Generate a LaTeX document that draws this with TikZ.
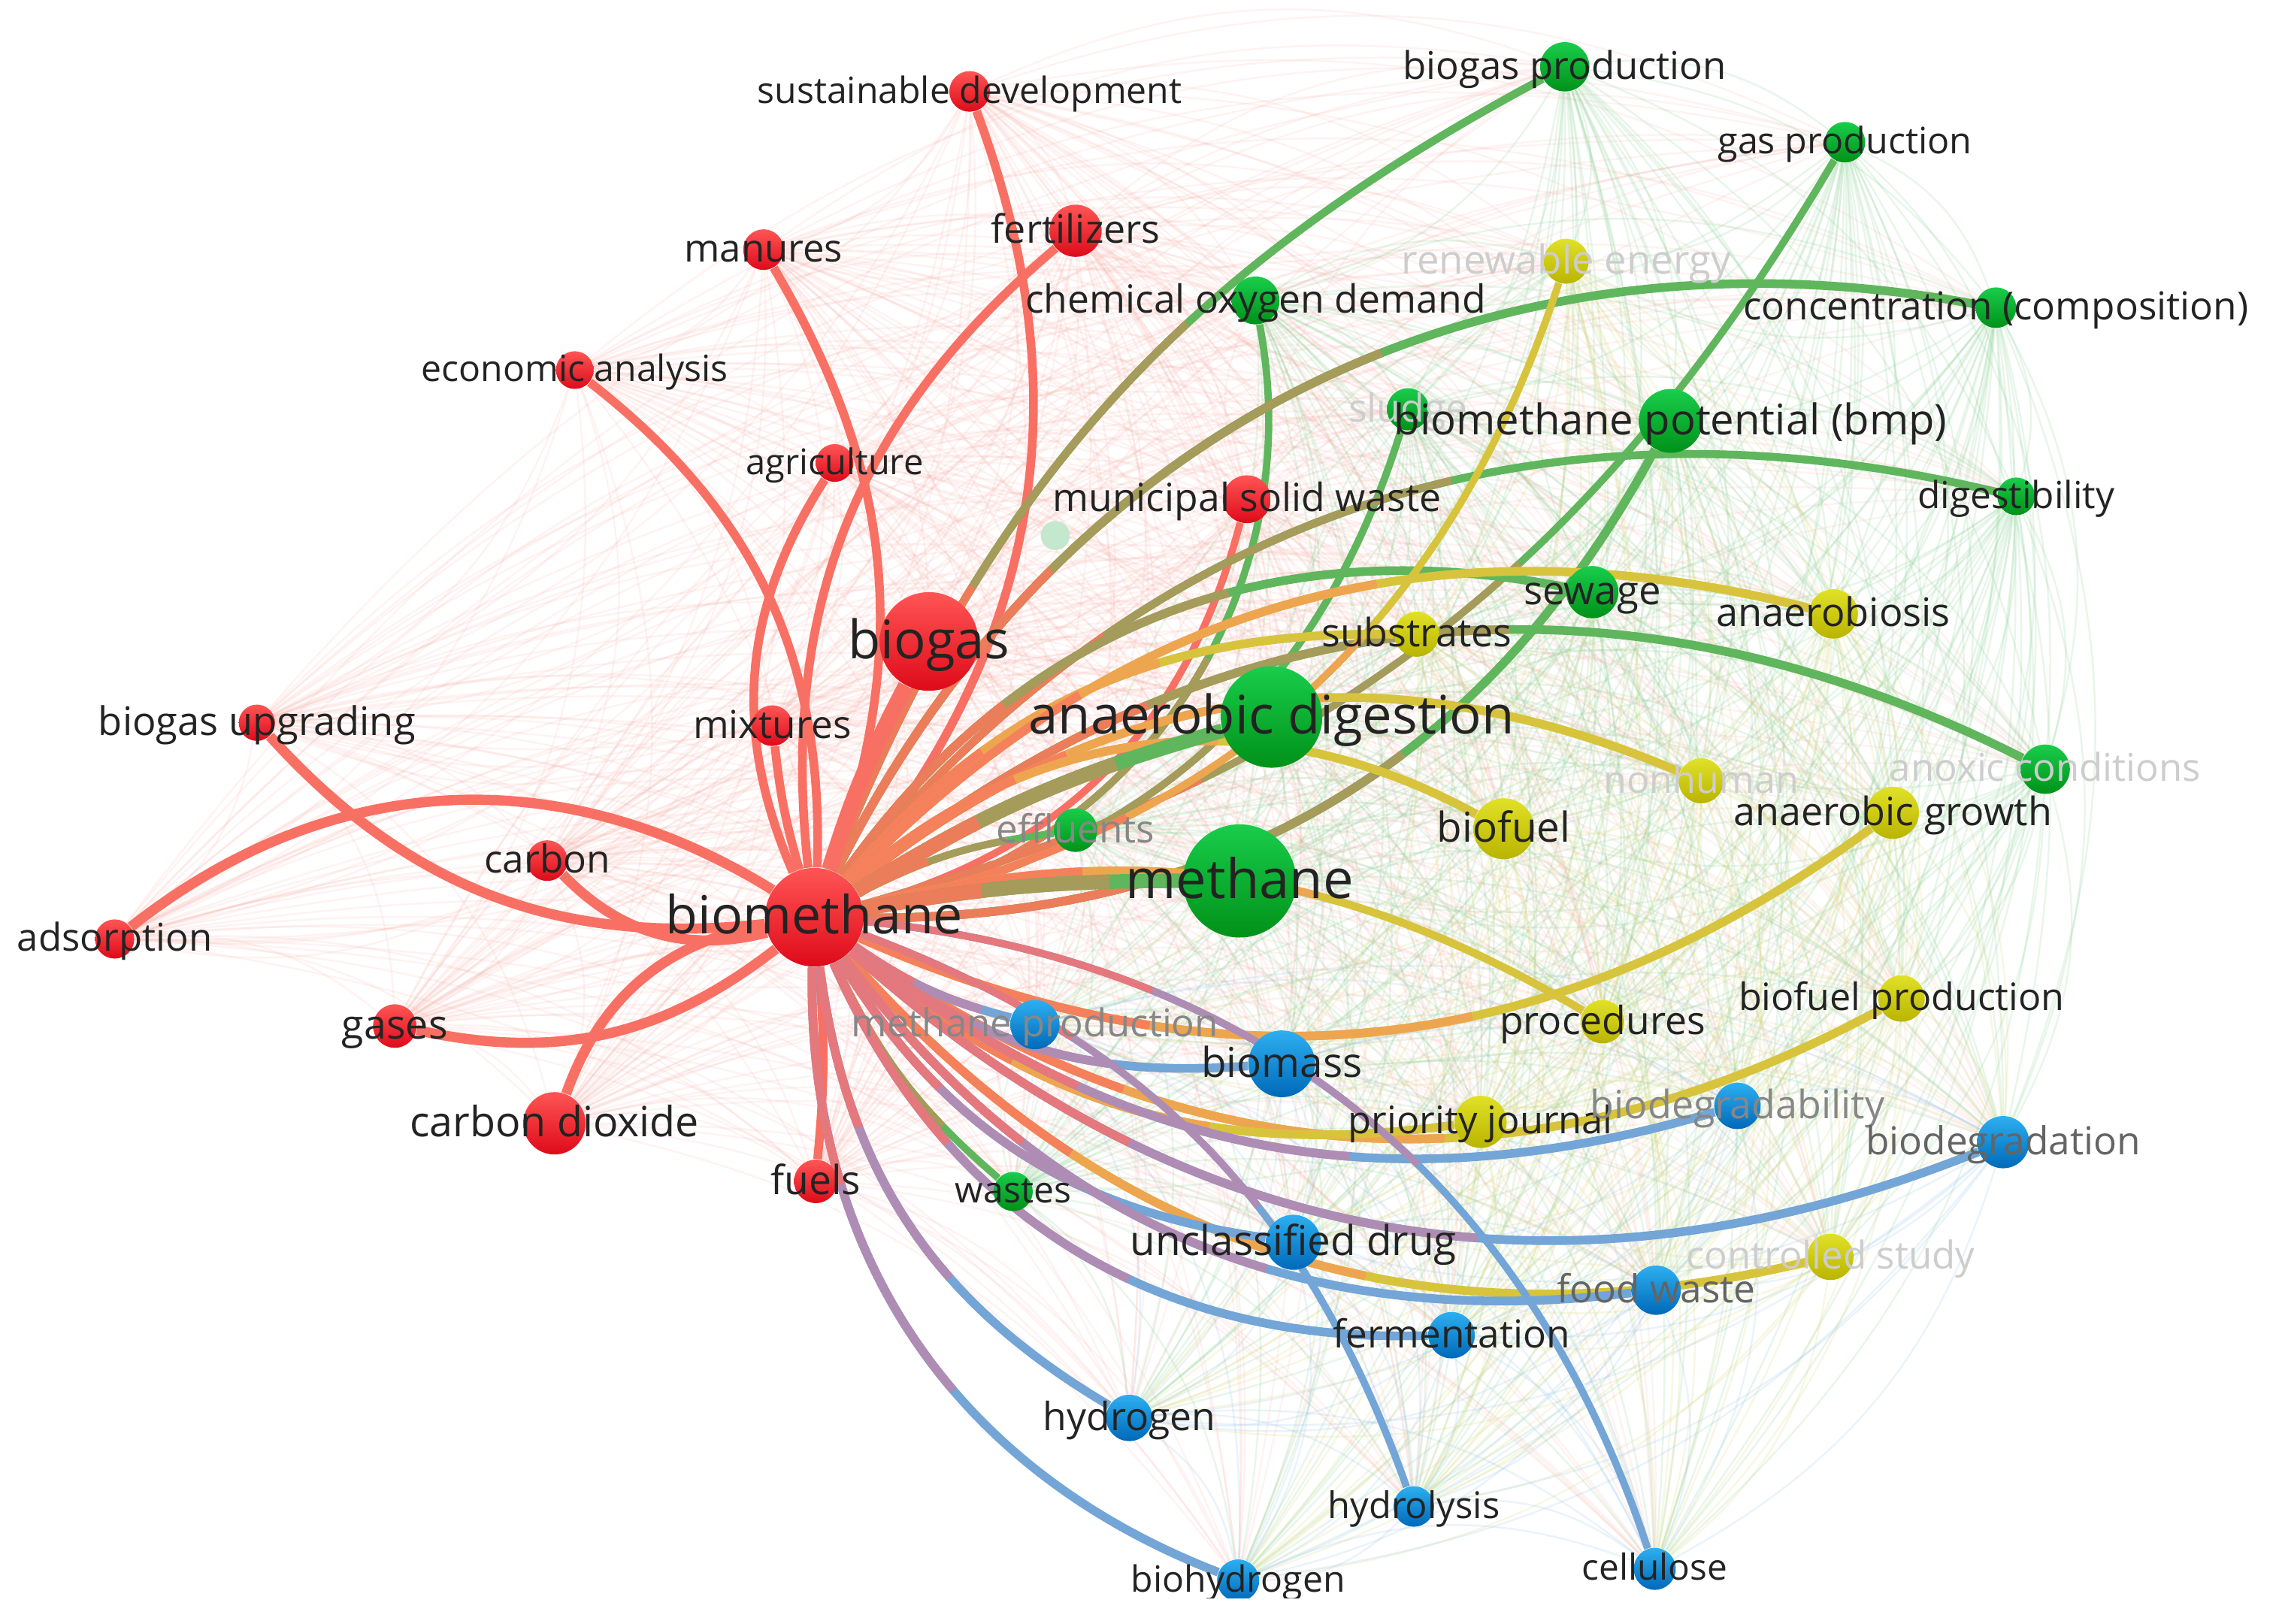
\documentclass[tikz,border=0pt]{standalone}
\usepackage{fontspec}
\setmainfont{Open Sans}
\pgfdeclarelayer{web}
\pgfdeclarelayer{edges}
\pgfsetlayers{web,edges,main}
% node colours (top / bottom of shading)
\definecolor{nR1}{RGB}{255,85,85}\definecolor{nR2}{RGB}{222,10,25}
\definecolor{nG1}{RGB}{25,205,75}\definecolor{nG2}{RGB}{0,145,25}
\definecolor{nY1}{RGB}{225,225,40}\definecolor{nY2}{RGB}{185,180,0}
\definecolor{nB1}{RGB}{45,175,240}\definecolor{nB2}{RGB}{0,105,185}
% strong edge colours (near biomethane -> far end)
\definecolor{eR}{RGB}{248,112,100}
\definecolor{eG1}{RGB}{235,125,90}\definecolor{eG2}{RGB}{165,155,90}\definecolor{eG3}{RGB}{95,182,92}
\definecolor{eY1}{RGB}{245,128,92}\definecolor{eY2}{RGB}{238,165,80}\definecolor{eY3}{RGB}{215,196,60}
\definecolor{eB1}{RGB}{228,120,125}\definecolor{eB2}{RGB}{175,140,180}\definecolor{eB3}{RGB}{115,165,215}
% faint web colours
\definecolor{wcR}{RGB}{248,165,155}\definecolor{wcG}{RGB}{140,210,150}
\definecolor{wcY}{RGB}{215,215,120}\definecolor{wcB}{RGB}{150,195,235}
\definecolor{fntc}{RGB}{195,232,205}
% text colours
\definecolor{tx}{RGB}{35,35,35}\definecolor{txl}{RGB}{205,205,205}
\definecolor{txm}{RGB}{135,135,135}\definecolor{txd}{RGB}{100,100,100}
\tikzset{
  kw/.style={circle, inner sep=0pt, draw=none},
  lab/.style={anchor=base, inner sep=0pt},
  wR/.style={draw=wcR, line width=0.7pt, opacity=0.13},
  wG/.style={draw=wcG, line width=0.7pt, opacity=0.2},
  wY/.style={draw=wcY, line width=0.7pt, opacity=0.2},
  wB/.style={draw=wcB, line width=0.7pt, opacity=0.2},
}
\newcommand\kwnode[5]{\node[kw, minimum size={#4*0.038622cm}, top color=n#51, bottom color=n#52] (#1) at (#2,#3) {};}
\newcommand\kwlab[4]{\node[lab, text=#3, font=\fontsize{#2}{#2}\selectfont, yshift={-0.32*#2pt}] at (#1.center) {#4};}
\newcommand\sedge[4]{%
  \pgfpointdiff{\pgfpointanchor{bm}{center}}{\pgfpointanchor{#1}{center}}%
  \pgfgetlastxy{\ex}{\ey}%
  \pgfmathsetmacro\elen{veclen(\ex,\ey)}%
  \pgfmathsetmacro\da{0.28*\elen}%
  \pgfmathsetmacro\db{0.58*\elen}%
  \ifx R#3\relax
    \draw[line width=#4*0.549pt, eR] (bm) to[bend left=#2] (#1);
  \else
    \draw[line width=#4*0.549pt, e#33] (bm) to[bend left=#2] (#1);
    \draw[line width=#4*0.549pt, e#32, dash pattern=on \db pt off 5000pt] (bm) to[bend left=#2] (#1);
    \draw[line width=#4*0.549pt, e#31, dash pattern=on \da pt off 5000pt] (bm) to[bend left=#2] (#1);
  \fi}
\def\nodelist{sd/R,fe/R,ma/R,ea/R,ag/R,msw/R,bg/R,mx/R,bu/R,ca/R,ad/R,ga/R,cd/R,fu/R,bgp/G,gp/G,cod/G,con/G,sl/G,bmp/G,di/G,se/G,adg/G,ax/G,ef/G,me/G,wa/G,re/Y,su/Y,an/Y,nh/Y,bf/Y,agr/Y,pr/Y,bfp/Y,pj/Y,cs/Y,mp/B,bms/B,bdy/B,bdn/B,ud/B,fw/B,fm/B,hy/B,hl/B,bh/B,ce/B}
\begin{document}
\begin{tikzpicture}[x=0.019311cm, y=-0.019311cm]
\useasboundingbox (0,0) rectangle (1568,1119);
\begin{scope}
\clip (0,0) rectangle (1568,1101);
% ---- red cluster
\kwnode{sd}{668}{63}{14}{R}
\kwnode{fe}{741}{159}{18}{R}
\kwnode{ma}{526}{172}{14}{R}
\kwnode{ea}{396}{255}{13}{R}
\kwnode{ag}{575}{319}{13}{R}
\kwnode{msw}{859}{344}{16.5}{R}
\kwnode{bg}{640}{442}{34}{R}
\kwnode{mx}{532}{500}{14}{R}
\kwnode{bu}{177}{498}{12.5}{R}
\kwnode{ca}{377}{593}{14}{R}
\kwnode{ad}{79}{647}{13.5}{R}
\kwnode{bm}{561}{632}{34}{R}
\kwnode{ga}{272}{707}{15}{R}
\kwnode{cd}{382}{774}{21.5}{R}
\kwnode{fu}{562}{814}{15}{R}
% ---- green cluster
\kwnode{bgp}{1078}{46}{17}{G}
\kwnode{gp}{1271}{98}{14}{G}
\kwnode{cod}{865}{207}{16.5}{G}
\kwnode{con}{1375}{212}{14}{G}
\kwnode{sl}{970}{282}{14.5}{G}
\kwnode{bmp}{1151}{290}{22}{G}
\kwnode{di}{1389}{342}{13}{G}
\kwnode{se}{1097}{408}{18}{G}
\kwnode{adg}{876}{494}{35}{G}
\kwnode{ax}{1409}{530}{17}{G}
\kwnode{ef}{741}{572}{15}{G}
\kwnode{me}{854}{607}{39}{G}
\kwnode{wa}{698}{821}{13.5}{G}
\node[kw, minimum size={10*0.038622cm}, fill=fntc] (fnt) at (727,369) {};
% ---- yellow cluster
\kwnode{re}{1079}{180}{15.5}{Y}
\kwnode{su}{976}{437}{15.5}{Y}
\kwnode{an}{1263}{423}{17}{Y}
\kwnode{nh}{1172}{538}{15.5}{Y}
\kwnode{bf}{1036}{571}{21}{Y}
\kwnode{agr}{1304}{560}{18}{Y}
\kwnode{pr}{1104}{704}{15}{Y}
\kwnode{bfp}{1310}{688}{16}{Y}
\kwnode{pj}{1020}{773}{18}{Y}
\kwnode{cs}{1261}{866}{16}{Y}
% ---- blue cluster
\kwnode{mp}{713}{706}{17}{B}
\kwnode{bms}{883}{733}{23}{B}
\kwnode{bdy}{1197}{762}{16}{B}
\kwnode{bdn}{1380}{787}{18}{B}
\kwnode{ud}{891}{856}{19}{B}
\kwnode{fw}{1141}{889}{17}{B}
\kwnode{fm}{1000}{920}{16}{B}
\kwnode{hy}{778}{977}{16}{B}
\kwnode{hl}{974}{1038}{14}{B}
\kwnode{bh}{853}{1089}{14.5}{B}
\kwnode{ce}{1140}{1081}{14.5}{B}
% ---- labels
\kwlab{sd}{13.7}{tx}{sustainable development}
\kwlab{fe}{14.8}{tx}{fertilizers}
\kwlab{ma}{14.5}{tx}{manures}
\kwlab{ea}{13.7}{tx}{economic analysis}
\kwlab{ag}{13.4}{tx}{agriculture}
\kwlab{msw}{14.7}{tx}{municipal solid waste}
\kwlab{bg}{20.1}{tx}{biogas}
\kwlab{mx}{14.6}{tx}{mixtures}
\kwlab{bu}{14.9}{tx}{biogas upgrading}
\kwlab{ca}{14.6}{tx}{carbon}
\kwlab{ad}{14.5}{tx}{adsorption}
\kwlab{bm}{19.9}{tx}{biomethane}
\kwlab{ga}{15.3}{tx}{gases}
\kwlab{cd}{15.8}{tx}{carbon dioxide}
\kwlab{fu}{15.2}{tx}{fuels}
\kwlab{bgp}{14.5}{tx}{biogas production}
\kwlab{gp}{13.8}{tx}{gas production}
\kwlab{cod}{14.7}{tx}{chemical oxygen demand}
\kwlab{con}{14.6}{tx}{concentration (composition)}
\kwlab{sl}{14.7}{txl}{sludge}
\kwlab{bmp}{16.0}{tx}{biomethane potential (bmp)}
\kwlab{di}{14.1}{tx}{digestibility}
\kwlab{se}{15}{tx}{sewage}
\kwlab{adg}{20.1}{tx}{anaerobic digestion}
\kwlab{ax}{14.5}{txl}{anoxic conditions}
\kwlab{ef}{14.6}{txm}{effluents}
\kwlab{me}{20.6}{tx}{methane}
\kwlab{wa}{13.7}{tx}{wastes}
\kwlab{re}{15}{txl}{renewable energy}
\kwlab{su}{14.8}{tx}{substrates}
\kwlab{an}{14.9}{tx}{anaerobiosis}
\kwlab{nh}{14.3}{txl}{nonhuman}
\kwlab{bf}{15.6}{tx}{biofuel}
\kwlab{agr}{14.8}{tx}{anaerobic growth}
\kwlab{pr}{14.7}{tx}{procedures}
\kwlab{bfp}{14.3}{tx}{biofuel production}
\kwlab{pj}{14.4}{tx}{priority journal}
\kwlab{cs}{14.5}{txl}{controlled study}
\kwlab{mp}{14.5}{txm}{methane production}
\kwlab{bms}{15.6}{tx}{biomass}
\kwlab{bdy}{14.8}{txm}{biodegradability}
\kwlab{bdn}{14.6}{txd}{biodegradation}
\kwlab{ud}{15.6}{tx}{unclassified drug}
\kwlab{fw}{14.6}{txd}{food waste}
\kwlab{fm}{14.6}{tx}{fermentation}
\kwlab{hy}{14.7}{tx}{hydrogen}
\kwlab{hl}{13.9}{tx}{hydrolysis}
\kwlab{bh}{13.7}{tx}{biohydrogen}
\kwlab{ce}{13.6}{tx}{cellulose}
\end{scope}
% ---- faint web of weaker links
\begin{pgfonlayer}{web}
\fill[white] (0,0) rectangle (1568,1119);
\begin{scope}
\clip (0,0) rectangle (1568,1101);
\foreach \na/\ka [count=\ia] in \nodelist {
  \foreach \nb/\kb [count=\ib] in \nodelist {
    \ifnum\ib>\ia
      \draw[w\ka] (\na) to[bend left=22] (\nb);
    \fi
  }
}
\end{scope}
\end{pgfonlayer}
% ---- strong links of biomethane
\begin{pgfonlayer}{edges}
\begin{scope}
\clip (0,0) rectangle (1568,1101);
\sedge{sd}{-30}{R}{6}
\sedge{fe}{28}{R}{6}
\sedge{ma}{-25}{R}{6}
\sedge{ea}{-27}{R}{6}
\sedge{ag}{28}{R}{6}
\sedge{msw}{-30}{R}{5}
\sedge{mx}{5}{R}{6}
\sedge{bu}{27}{R}{7}
\sedge{ca}{30}{R}{7}
\sedge{ad}{-35}{R}{7}
\sedge{ga}{25}{R}{7}
\sedge{cd}{-30}{R}{7}
\sedge{fu}{5}{R}{6}
\sedge{bgp}{20}{G}{5.5}
\sedge{gp}{-22}{G}{5}
\sedge{cod}{-45}{G}{5}
\sedge{con}{37}{G}{6}
\sedge{sl}{-31}{G}{5}
\sedge{bmp}{-31}{G}{6}
\sedge{di}{32}{G}{5.5}
\sedge{se}{33}{G}{6}
\sedge{ax}{33}{G}{6}
\sedge{ef}{10}{G}{5}
\sedge{wa}{-12}{G}{5}
\sedge{re}{-30}{Y}{5}
\sedge{su}{25}{Y}{6}
\sedge{an}{30}{Y}{6}
\sedge{nh}{31}{Y}{6}
\sedge{bf}{35}{Y}{6}
\sedge{agr}{-30}{Y}{6}
\sedge{pr}{22}{Y}{5.5}
\sedge{bfp}{-32}{Y}{6}
\sedge{pj}{-24}{Y}{6}
\sedge{cs}{-31}{Y}{6}
\sedge{mp}{-10}{B}{6}
\sedge{bms}{-21}{B}{6}
\sedge{bdy}{-27}{B}{6}
\sedge{bdn}{-32}{B}{6}
\sedge{ud}{-25}{B}{6}
\sedge{fw}{-30}{B}{6}
\sedge{fm}{-34}{B}{6}
\sedge{hy}{-26}{B}{6}
\sedge{hl}{25}{B}{5}
\sedge{bh}{-35}{B}{6}
\sedge{ce}{33}{B}{5}
\sedge{bg}{5}{R}{11}
\sedge{adg}{8}{G}{10}
\sedge{me}{5}{G}{10}
\end{scope}
\end{pgfonlayer}
\end{tikzpicture}
\end{document}
